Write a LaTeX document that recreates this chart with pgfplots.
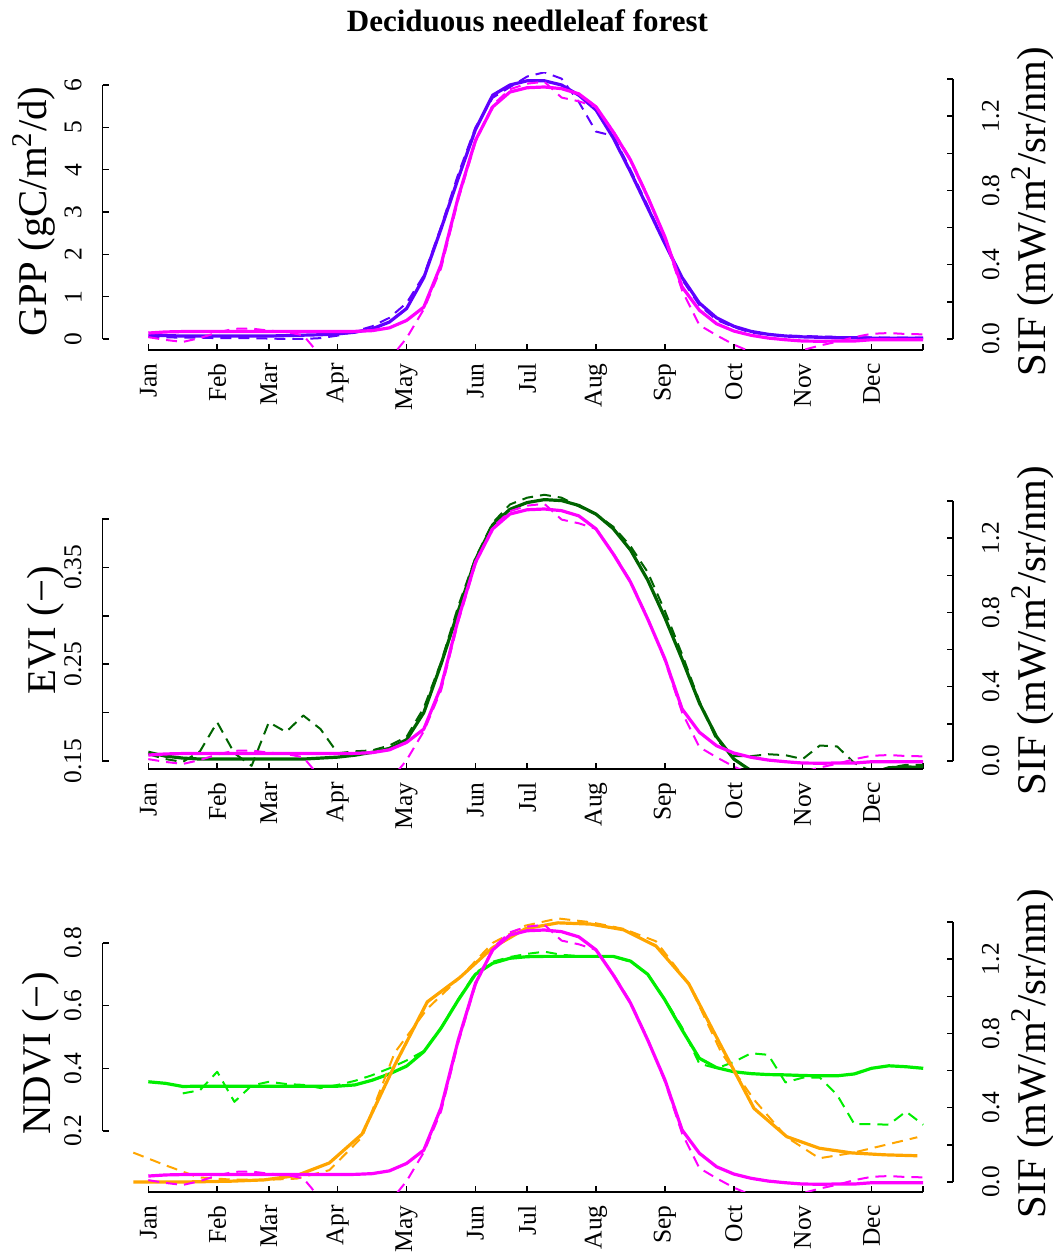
\documentclass[border=0pt]{standalone}
\usepackage{fontspec}
\setmainfont{Liberation Serif}
\usepackage{pgfplots}
\pgfplotsset{compat=1.18}
\usepackage{pgfplotstable}

\definecolor{gppc}{HTML}{5F00FF}
\definecolor{sifc}{HTML}{FF00FF}
\definecolor{evic}{HTML}{006400}
\definecolor{ndvic}{HTML}{00EE00}
\definecolor{orc}{HTML}{FFA500}

\pgfplotstableread{
i  gpp  gppd  sif    sifd   evi   evid  ndvi  ndvid
1  0.08 0.05  0.032  0.010  0.159 0.157 0.357 nan
2  0.08 0.04  0.038  -0.005 0.155 0.152 0.352 nan
3  0.07 0.03  0.040  -0.016 0.153 0.149 0.342 0.320
4  0.07 0.03  0.040  0.005  0.152 0.160 0.343 0.330
5  0.07 0.02  0.040  0.035  0.152 0.190 0.343 0.389
6  0.07 0.02  0.040  0.055  0.152 0.158 0.343 0.293
7  0.07 0.02  0.040  0.056  0.152 0.145 0.343 0.345
8  0.07 0.01  0.040  0.045  0.152 0.190 0.343 0.357
9  0.08 0.00  0.040  0.038  0.152 0.180 0.343 0.350
10 0.09 0.00  0.040  0.020  0.152 0.197 0.343 0.347
11 0.10 0.02  0.040  -0.090 0.153 0.183 0.343 0.337
12 0.12 0.08  0.040  -0.200 0.154 0.158 0.343 0.347
13 0.16 0.18  0.041  -0.250 0.156 0.160 0.347 0.360
14 0.24 0.30  0.045  -0.220 0.159 0.161 0.362 0.378
15 0.40 0.50  0.060  -0.110 0.163 0.166 0.382 0.400
16 0.72 0.85  0.100  0.005  0.172 0.175 0.407 0.425
17 1.45 1.50  0.172  0.160  0.200 0.205 0.453 0.455
18 2.60 2.65  0.400  0.380  0.250 0.252 0.528 0.530
19 3.80 3.90  0.765  0.750  0.305 0.310 0.618 0.620
20 4.95 5.00  1.070  1.060  0.358 0.360 0.700 0.705
21 5.76 5.70  1.250  1.260  0.394 0.396 0.735 0.740
22 6.00 5.95  1.330  1.345  0.410 0.415 0.751 0.755
23 6.10 6.20  1.353  1.375  0.417 0.422 0.756 0.765
24 6.10 6.30  1.357  1.385  0.420 0.425 0.757 0.772
25 6.00 6.15  1.348  1.300  0.419 0.422 0.757 0.762
26 5.76 5.60  1.320  1.280  0.414 0.413 0.757 0.758
27 5.41 4.90  1.250  1.250  0.405 0.405 0.757 0.757
28 4.75 4.80  1.115  1.120  0.390 0.392 0.757 0.756
29 3.95 4.00  0.964  0.970  0.368 0.372 0.742 0.740
30 3.10 3.15  0.765  0.770  0.337 0.345 0.700 0.700
31 2.25 2.25  0.550  0.540  0.298 0.305 0.618 0.620
32 1.45 1.40  0.280  0.260  0.255 0.260 0.522 0.530
33 0.85 0.80  0.155  0.075  0.210 0.212 0.432 0.415
34 0.50 0.45  0.082  0.020  0.175 0.172 0.402 0.400
35 0.30 0.28  0.043  -0.030 0.152 0.155 0.389 0.420
36 0.18 0.15  0.020  -0.070 0.140 0.155 0.383 0.448
37 0.11 0.10  0.005  -0.080 0.132 0.157 0.380 0.443
38 0.07 0.08  -0.004 -0.075 0.128 0.156 0.379 0.355
39 0.05 0.07  -0.011 -0.060 0.127 0.152 0.377 0.370
40 0.04 0.06  -0.012 -0.035 0.127 0.166 0.376 0.370
41 0.03 0.05  -0.011 -0.015 0.128 0.165 0.376 0.315
42 0.03 0.04  -0.011 0.010  0.130 0.148 0.382 0.222
43 0.02 0.04  -0.004 0.028  0.137 0.139 0.400 0.222
44 0.02 0.03  -0.004 0.032  0.143 0.143 0.408 0.220
45 0.02 0.03  -0.004 0.027  0.144 0.146 0.405 0.262
46 0.02 0.03  -0.004 0.025  0.143 0.146 0.400 0.220
}\maindata

\pgfplotstableread{
x      o     od
0.129  0.037 0.131
2.028  0.037 0.090
3.921  0.038 0.052
5.820  0.040 0.045
7.719  0.044 0.044
9.618  0.058 0.048
11.511 0.098 0.075
13.410 0.190 0.180
15.309 0.410 0.450
17.202 0.612 0.590
19.101 0.690 0.690
21.000 0.785 0.800
22.893 0.845 0.855
24.792 0.864 0.878
26.691 0.860 0.866
28.584 0.842 0.845
30.483 0.790 0.805
32.382 0.670 0.670
34.275 0.470 0.450
36.174 0.272 0.300
38.073 0.182 0.180
39.966 0.145 0.113
41.865 0.130 0.130
43.764 0.124 0.155
45.657 0.121 0.180
}\orangedata

\tikzset{axisline/.style={line width=0.75bp, black}}
\pgfplotsset{
  base/.style={scale only axis, width=425.25bp, height=138.5bp,
    xmin=-1.66, xmax=47.73, clip mode=individual,
    tick align=inside, major tick length=3.2bp,
    major tick style={line width=0.75bp, black},
    axis line style={draw=none},
    ticklabel style={font=\fontsize{12.75bp}{15bp}\selectfont, inner sep=0pt},
  },
  leftax/.style={base, axis x line*=bottom, axis y line*=left,
    xtick={1,5,8,12,16,20,23,27,31,35,39,43,46},
    xticklabels={Jan,Feb,Mar,Apr,May,Jun,Jul,Aug,Sep,Oct,Nov,Dec,},
    xticklabel style={rotate=90, anchor=east},
    xticklabel shift=6.5bp,
    yticklabel style={rotate=90, anchor=south},
    yticklabel shift=10.25bp,
  },
  rightax/.style={base, axis x line=none, xtick=\empty, axis y line*=right,
    ytick={0,0.2,0.4,0.6,0.8,1,1.2,1.4},
    yticklabels={0.0,,0.4,,0.8,,1.2,},
    yticklabel style={rotate=90, anchor=north},
    yticklabel shift=14.35bp,
    every axis y label/.style={at={(rel axis cs:1.1082,0.5)}, rotate=90, anchor=base,
      font=\fontsize{20.4bp}{24bp}\selectfont},
    ylabel={SIF (mW/m\textsuperscript{2}/sr/nm)},
  },
  solidl/.style={line width=1.6bp, line join=round},
  dashl/.style={line width=1bp, dash pattern=on 5.5bp off 3.5bp, line join=round},
}

\begin{document}
\begin{tikzpicture}
\useasboundingbox (0,0) rectangle (526.5bp,628.5bp);

% ---------------- Panel 1: GPP ----------------
\begin{axis}[leftax, at={(51.25bp,453.5bp)}, anchor=south west,
  ymin=-0.26, ymax=6.284, ytick={0,1,2,3,4,5,6}, yticklabels={0,1,2,3,4,5,6},
  every axis y label/.style={at={(rel axis cs:-0.0656,0.5)}, rotate=90, anchor=base,
    font=\fontsize{20.4bp}{24bp}\selectfont},
  ylabel={GPP (gC/m\textsuperscript{2}/d)},
  title={Deciduous needleleaf forest},
  every axis title shift=0pt,
  title style={at={(rel axis cs:0.4997,1.1516)}, anchor=base,
    font=\bfseries\fontsize{15.5bp}{18bp}\selectfont}]
\addplot[gppc, solidl] table[x=i, y=gpp] {\maindata};
\addplot[gppc, dashl] table[x=i, y=gppd] {\maindata};
\draw[axisline] (axis cs:1,-0.26) -- (axis cs:46,-0.26);
\draw[axisline] (axis cs:-1.66,0) -- (axis cs:-1.66,6);
\end{axis}
\begin{axis}[rightax, at={(51.25bp,453.5bp)}, anchor=south west,
  ymin=-0.0592, ymax=1.4324]
\addplot[sifc, solidl] table[x=i, y=sif] {\maindata};
\addplot[sifc, dashl] table[x=i, y=sifd] {\maindata};
\draw[axisline] (axis cs:47.73,0) -- (axis cs:47.73,1.4);
\end{axis}

% ---------------- Panel 2: EVI ----------------
\begin{axis}[leftax, at={(51.25bp,244bp)}, anchor=south west,
  ymin=0.14174, ymax=0.42789, ytick={0.15,0.2,0.25,0.3,0.35,0.4},
  yticklabels={0.15,,0.25,,0.35,},
  every axis y label/.style={at={(rel axis cs:-0.0558,0.5)}, rotate=90, anchor=base,
    font=\fontsize{20.4bp}{24bp}\selectfont},
  ylabel={EVI (−)}]
\addplot[evic, solidl] table[x=i, y=evi] {\maindata};
\addplot[evic, dashl] table[x=i, y=evid] {\maindata};
\draw[axisline] (axis cs:1,0.14174) -- (axis cs:46,0.14174);
\draw[axisline] (axis cs:-1.66,0.15) -- (axis cs:-1.66,0.4);
\end{axis}
\begin{axis}[rightax, at={(51.25bp,244bp)}, anchor=south west,
  ymin=-0.04308, ymax=1.4486]
\addplot[sifc, solidl] table[x=i, y=sif] {\maindata};
\addplot[sifc, dashl] table[x=i, y=sifd] {\maindata};
\draw[axisline] (axis cs:47.73,0) -- (axis cs:47.73,1.4);
\end{axis}

% ---------------- Panel 3: NDVI ----------------
\begin{axis}[leftax, at={(51.25bp,32.5bp)}, anchor=south west,
  ymin=0.00542, ymax=0.889, ytick={0.2,0.4,0.6,0.8},
  yticklabels={0.2,0.4,0.6,0.8},
  every axis y label/.style={at={(rel axis cs:-0.0617,0.5)}, rotate=90, anchor=base,
    font=\fontsize{20.4bp}{24bp}\selectfont},
  ylabel={NDVI (−)}]
\addplot[ndvic, solidl] table[x=i, y=ndvi] {\maindata};
\addplot[ndvic, dashl] table[x=i, y=ndvid] {\maindata};
\addplot[orc, solidl] table[x=x, y=o] {\orangedata};
\addplot[orc, dashl] table[x=x, y=od] {\orangedata};
\draw[axisline] (axis cs:1,0.00542) -- (axis cs:46,0.00542);
\draw[axisline] (axis cs:-1.66,0.2) -- (axis cs:-1.66,0.8);
\end{axis}
\begin{axis}[rightax, at={(51.25bp,32.5bp)}, anchor=south west,
  ymin=-0.05385, ymax=1.4378]
\addplot[sifc, solidl] table[x=i, y=sif] {\maindata};
\addplot[sifc, dashl] table[x=i, y=sifd] {\maindata};
\draw[axisline] (axis cs:47.73,0) -- (axis cs:47.73,1.4);
\end{axis}
\end{tikzpicture}
\end{document}
